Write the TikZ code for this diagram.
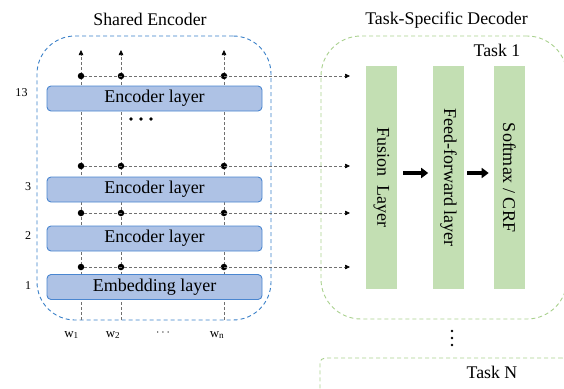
\documentclass[tikz,border=0pt]{standalone}
\usepackage{fontspec}
\setmainfont{Liberation Serif}
\usetikzlibrary{arrows.meta}
\definecolor{encfill}{HTML}{AEC2E5}
\definecolor{encdraw}{HTML}{4A86D0}
\definecolor{encdash}{HTML}{3A80C8}
\definecolor{decfill}{HTML}{C3DFB3}
\definecolor{decdash}{HTML}{A9D18E}
\definecolor{conn}{HTML}{707070}
\tikzset{
  layerbox/.style={draw=encdraw, fill=encfill, line width=0.9pt, rounded corners=4pt,
    minimum width=215pt, minimum height=25pt, inner sep=0pt, font=\fontsize{18}{20}\selectfont},
  barbox/.style={fill=decfill, minimum width=31pt, minimum height=223pt, inner sep=0pt},
  bartext/.style={rotate=-90, font=\fontsize{18}{20}\selectfont},
  connline/.style={draw=conn, line width=0.6pt, dash pattern=on 3pt off 2pt},
  tip/.style={-{Triangle[length=5pt,width=4.5pt,color=black]}},
  dotnode/.style={circle, fill=black, minimum size=6.5pt, inner sep=0pt},
  smalldot/.style={circle, fill=black, minimum size=3.6pt, inner sep=0pt},
  tinydot/.style={circle, fill=black, minimum size=2.6pt, inner sep=0pt},
  titletext/.style={font=\fontsize{17.8}{20}\selectfont},
  numtext/.style={font=\fontsize{12}{14}\selectfont},
  wtext/.style={font=\fontsize{13}{15}\selectfont},
  bigarrow/.style={line width=3.5pt, -{Triangle[length=7pt,width=10pt]}},
}
\begin{document}
\begin{tikzpicture}[x=1pt,y=-1pt]
\useasboundingbox (0,0) rectangle (564,388);
\clip (0,0) rectangle (564,388);

% titles
\node[titletext] (t1) at (150,19) {Shared Encoder};
\node[titletext] (t2) at (446.5,20) {Task-Specific Decoder};

% outer dashed boxes
\node[draw=encdash, line width=0.9pt, dash pattern=on 4pt off 3pt, rounded corners=38pt,
  minimum width=234pt, minimum height=284pt, inner sep=0pt] (enc) at (154,178) {};
\node[draw=decdash, line width=0.9pt, dash pattern=on 4pt off 3pt, rounded corners=40pt,
  minimum width=246pt, minimum height=283pt, inner sep=0pt] (dec) at (444,177.5) {};
\node[draw=decdash, line width=0.9pt, dash pattern=on 4pt off 3pt, rounded corners=5pt,
  minimum width=247pt, minimum height=80pt, inner sep=0pt] (decn) at (443.5,398) {};
\node[titletext] (task1) at (497,50) {Task 1};
\node[titletext] (taskn) at (492,372) {Task N};

% column coordinates
\coordinate (b1) at (81,320);  \coordinate (tp1) at (81,50);
\coordinate (b2) at (121,320); \coordinate (tp2) at (121,50);
\coordinate (b3) at (224,320); \coordinate (tp3) at (224,50);
\draw[connline, tip] (b1) -- (tp1);
\draw[connline, tip] (b2) -- (tp2);
\draw[connline, tip] (b3) -- (tp3);

% horizontal rows
\coordinate (r1) at (350,76);
\coordinate (r2) at (350,166);
\coordinate (r3) at (350,213);
\coordinate (r4) at (350,267);
\node[dotnode] (d1a) at (81,76) {};  \node[dotnode] (d1b) at (121,76) {};  \node[dotnode] (d1c) at (224,76) {};
\node[dotnode] (d2a) at (81,166) {}; \node[dotnode] (d2b) at (121,166) {}; \node[dotnode] (d2c) at (224,166) {};
\node[dotnode] (d3a) at (81,213) {}; \node[dotnode] (d3b) at (121,213) {}; \node[dotnode] (d3c) at (224,213) {};
\node[dotnode] (d4a) at (81,267) {}; \node[dotnode] (d4b) at (121,267) {}; \node[dotnode] (d4c) at (224,267) {};
\draw[connline, tip] (d1a) -- (r1);
\draw[connline, tip] (d2a) -- (r2);
\draw[connline, tip] (d3a) -- (r3);
\draw[connline, tip] (d4a) -- (r4);

% layer boxes
\node[layerbox] (l13) at (154.5,98.5) {Encoder layer};
\node[layerbox] (l3) at (154.5,189.5) {Encoder layer};
\node[layerbox] (l2) at (154.5,238.5) {Encoder layer};
\node[layerbox] (l1) at (154.5,287) {Embedding layer};

% layer numbers
\node[numtext] (n13) at (21.5,93) {13};
\node[numtext] (n3) at (28,187) {3};
\node[numtext] (n2) at (28,236) {2};
\node[numtext] (n1) at (28,286) {1};

% ellipsis dots
\node[smalldot] (e1) at (131,119) {};
\node[smalldot] (e2) at (141,119) {};
\node[smalldot] (e3) at (151,119) {};

% word labels
\node[wtext] (w1) at (71.5,335) {w\textsubscript{1}};
\node[wtext] (w2) at (113,335) {w\textsubscript{2}};
\node[wtext] (wd) at (163,333) {$\cdots$};
\node[wtext] (wn) at (217,335) {w\textsubscript{n}};

% decoder bars
\node[barbox] (fus) at (381.5,177.5) {};
\node[bartext] at (fus) {Fusion\ \ Layer};
\node[barbox] (ff) at (448.4,177.5) {};
\node[bartext] at (ff) {Feed-forward layer};
\node[barbox] (sm) at (509.4,177.5) {};
\node[bartext] at (sm) {Softmax / CRF};

\coordinate (ary) at (0,173);
\draw[bigarrow, shorten <=6pt, shorten >=4.5pt] (fus.east |- ary) -- (ff.west |- ary);
\draw[bigarrow, shorten <=3pt, shorten >=5pt] (ff.east |- ary) -- (sm.west |- ary);

% vertical dots between tasks
\node[tinydot] (v1) at (452,331) {};
\node[tinydot] (v2) at (452,338) {};
\node[tinydot] (v3) at (452,345) {};
\end{tikzpicture}
\end{document}
